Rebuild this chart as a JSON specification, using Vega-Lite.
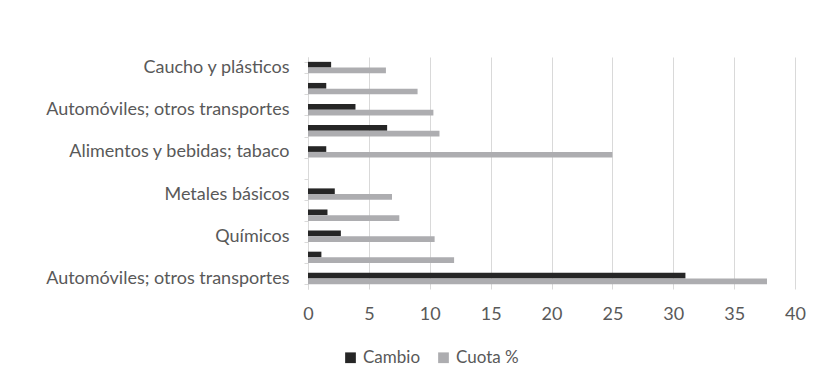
{
  "$schema": "https://vega.github.io/schema/vega-lite/v6.json",
  "width": 487,
  "height": 232,
  "padding": {"left": 8, "top": 48, "right": 20, "bottom": 10},
  "background": "white",
  "config": {
    "view": {"stroke": null},
    "font": "Lato"
  },
  "data": {
    "values": [
      {"cat": "Caucho y plásticos", "serie": "Cambio", "valor": 1.9},
      {"cat": "Caucho y plásticos", "serie": "Cuota %", "valor": 6.4},
      {"cat": "s2", "serie": "Cambio", "valor": 1.5},
      {"cat": "s2", "serie": "Cuota %", "valor": 9.0},
      {"cat": "Automóviles; otros transportes", "serie": "Cambio", "valor": 3.9},
      {"cat": "Automóviles; otros transportes", "serie": "Cuota %", "valor": 10.3},
      {"cat": "s4", "serie": "Cambio", "valor": 6.5},
      {"cat": "s4", "serie": "Cuota %", "valor": 10.8},
      {"cat": "Alimentos y bebidas; tabaco", "serie": "Cambio", "valor": 1.5},
      {"cat": "Alimentos y bebidas; tabaco", "serie": "Cuota %", "valor": 25.0},
      {"cat": "Metales básicos", "serie": "Cambio", "valor": 2.2},
      {"cat": "Metales básicos", "serie": "Cuota %", "valor": 6.9},
      {"cat": "s8", "serie": "Cambio", "valor": 1.6},
      {"cat": "s8", "serie": "Cuota %", "valor": 7.5},
      {"cat": "Químicos", "serie": "Cambio", "valor": 2.7},
      {"cat": "Químicos", "serie": "Cuota %", "valor": 10.4},
      {"cat": "s10", "serie": "Cambio", "valor": 1.1},
      {"cat": "s10", "serie": "Cuota %", "valor": 12.0},
      {"cat": "Automóviles; otros transportes (2)", "serie": "Cambio", "valor": 31.0},
      {"cat": "Automóviles; otros transportes (2)", "serie": "Cuota %", "valor": 37.7}
    ]
  },
  "mark": "bar",
  "encoding": {
    "y": {
      "field": "cat",
      "type": "nominal",
      "scale": {
        "domain": ["Caucho y plásticos", "s2", "Automóviles; otros transportes", "s4", "Alimentos y bebidas; tabaco", "s6", "Metales básicos", "s8", "Químicos", "s10", "Automóviles; otros transportes (2)"],
        "paddingInner": 0.46,
        "paddingOuter": 0.23
      },
      "axis": {
        "title": null,
        "labelExpr": "(datum.label == null || datum.label == '' || substring(datum.label, 0, 1) == 's') ? '' : replace(datum.label, ' (2)', '')",
        "labelFontSize": 18,
        "labelColor": "#595959",
        "labelPadding": 15,
        "labelLimit": 400,
        "minExtent": 300,
        "maxExtent": 300,
        "domainColor": "#d9d9d9",
        "tickColor": "#d9d9d9",
        "tickSize": 4,
        "tickBand": "extent"
      }
    },
    "yOffset": {"field": "serie", "type": "nominal"},
    "x": {
      "field": "valor",
      "type": "quantitative",
      "scale": {"domain": [0, 40], "nice": false},
      "axis": {
        "title": null,
        "values": [0, 5, 10, 15, 20, 25, 30, 35, 40],
        "labelFontSize": 18,
        "labelColor": "#595959",
        "labelPadding": 16,
        "labelFlush": false,
        "domain": false,
        "ticks": false,
        "gridColor": "#d9d9d9"
      }
    },
    "color": {
      "field": "serie",
      "type": "nominal",
      "scale": {"domain": ["Cambio", "Cuota %"], "range": ["#262626", "#adadb0"]},
      "legend": {
        "title": null,
        "orient": "none",
        "direction": "horizontal",
        "legendX": 34,
        "legendY": 292,
        "symbolType": "square",
        "symbolSize": 115,
        "symbolStrokeWidth": 0,
        "labelFontSize": 17,
        "labelColor": "#595959",
        "labelOffset": 4,
        "columnPadding": 14
      }
    }
  }
}
